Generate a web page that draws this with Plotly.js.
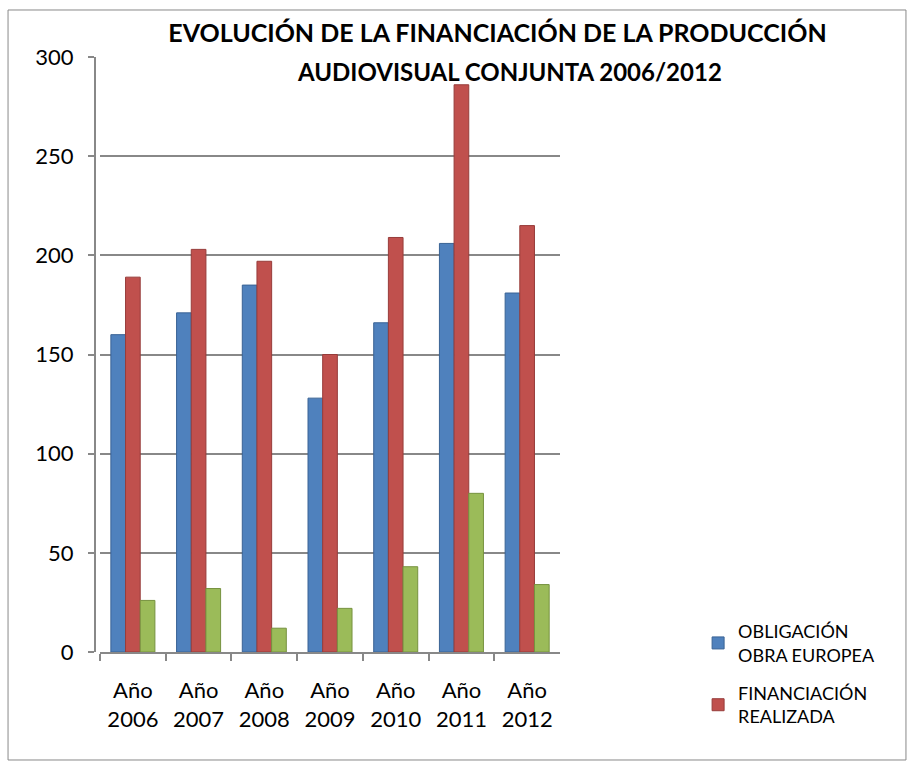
<!DOCTYPE html>
<html>
<head>
<meta charset="utf-8">
<script src="https://cdn.plot.ly/plotly-3.0.1.min.js"></script>
<style>
  html, body { margin: 0; padding: 0; background: #fff; }
  #chart { width: 912px; height: 767px; }
</style>
</head>
<body>
<div id="chart"></div>
<script>
const categories = ["Año<br>2006", "Año<br>2007", "Año<br>2008", "Año<br>2009", "Año<br>2010", "Año<br>2011", "Año<br>2012"];
const obligacion = [160, 171, 185, 128, 166, 206, 181];
const financiacion = [189, 203, 197, 150, 209, 286, 215];
const tercera = [26, 32, 12, 22, 43, 80, 34];
const yTicks = [0, 50, 100, 150, 200, 250, 300];
const titleLine1 = "EVOLUCIÓN DE LA FINANCIACIÓN DE LA PRODUCCIÓN";
const titleLine2 = "AUDIOVISUAL CONJUNTA 2006/2012";

const FONT = "Lato, 'Open Sans', sans-serif";

const traces = [
  { type: "bar", name: "OBLIGACIÓN<br>OBRA EUROPEA", legendgroup: "a", x: categories, y: obligacion,
    marker: { color: "#4F81BD", line: { color: "#3A6395", width: 1 } } },
  { type: "bar", name: "FINANCIACIÓN<br>REALIZADA", legendgroup: "b", x: categories, y: financiacion,
    marker: { color: "#C0504D", line: { color: "#973C3A", width: 1 } } },
  { type: "bar", name: "", legendgroup: "c", x: categories, y: tercera, showlegend: false,
    marker: { color: "#9BBB59", line: { color: "#76923F", width: 1 } } }
];

const layout = {
  width: 912, height: 767,
  margin: { l: 95, r: 352, t: 57, b: 115 },
  paper_bgcolor: "#fff", plot_bgcolor: "#fff",
  font: { family: FONT, color: "#000" },
  title: {
    text: "<b>" + titleLine1 + "</b>",
    font: { family: FONT, size: 25, color: "#000" },
    xref: "container", yref: "container",
    x: 0.5455, xanchor: "center", y: 0.957, yanchor: "middle"
  },
  annotations: [
    { text: "<b>" + titleLine2 + "</b>", xref: "paper", yref: "paper",
      x: 0.892, y: 0.975, xanchor: "center", yanchor: "middle", showarrow: false,
      font: { family: FONT, size: 24, color: "#000" } }
  ],
  barmode: "group", bargap: 0.33, bargroupgap: 0,
  xaxis: {
    type: "category", domain: [0.0108, 1],
    tickfont: { family: FONT, size: 22 },
    showline: true, linecolor: "#888", linewidth: 2,
    ticks: "outside", tickson: "boundaries", ticklen: 7, tickcolor: "#888", tickwidth: 2,
    ticklabelstandoff: 18,
    showgrid: false
  },
  yaxis: {
    anchor: "free", position: 0,
    range: [0, 300], tickvals: yTicks, ticktext: yTicks.map(String),
    tickfont: { family: FONT, size: 22 },
    showline: true, linecolor: "#888", linewidth: 2,
    ticks: "outside", ticklen: 6, tickcolor: "#888", tickwidth: 2,
    ticklabelstandoff: 10,
    showgrid: true, gridcolor: "#888", gridwidth: 2,
    zeroline: false
  },
  legend: {
    x: 1.297, y: 0.0655, xanchor: "left", yanchor: "top",
    font: { family: FONT, size: 18 },
    bgcolor: "rgba(0,0,0,0)", traceorder: "grouped", tracegroupgap: 12
  },
  showlegend: true,
  shapes: [
    { type: "rect", xref: "paper", yref: "paper",
      x0: -0.187, x1: 1.744, y0: -0.1815, y1: 1.079,
      line: { color: "#898989", width: 1 }, fillcolor: "rgba(0,0,0,0)", layer: "below" }
  ]
};

Plotly.newPlot("chart", traces, layout, { displayModeBar: false, staticPlot: true });
</script>
</body>
</html>
